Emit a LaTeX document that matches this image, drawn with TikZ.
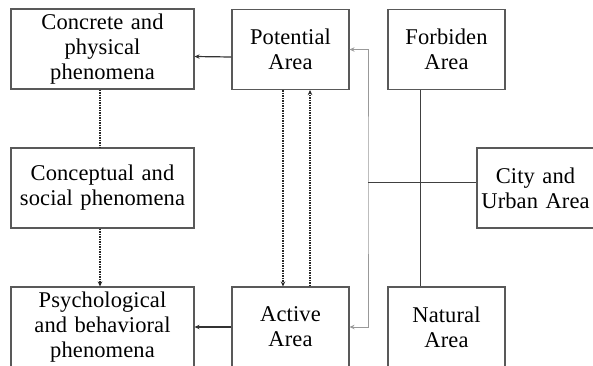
\documentclass[tikz,border=0pt]{standalone}
\usepackage{fontspec}
\setmainfont{Liberation Serif}[LetterSpace=0.5,WordSpace=1.3]
\usetikzlibrary{arrows.meta}
\begin{document}
\begin{tikzpicture}[x=1pt,y=-1pt,
  box/.style={draw=black!65, line width=1.1pt, fill=white, align=center,
    inner sep=0pt, font=\fontsize{22.5}{25}\selectfont},
  widebox/.style={box, minimum width=183pt, minimum height=80pt},
  areabox/.style={box, minimum width=117pt, minimum height=80pt},
  tip/.style={-{Stealth[length=5pt,width=4.5pt]}},
  flow/.style={tip, line width=1.2pt, black!80},
  dots/.style={line width=2.2pt, black!85, dash pattern=on 1.5pt off 1pt},
  graylink/.style={line width=0.9pt, black!40},
  divider/.style={line width=1pt, black!75}]
\useasboundingbox (0,0) rectangle (593,365);
\clip (0,0) rectangle (593,365);

% left column
\node[widebox] (concrete) at (102.5,49) {Concrete and\\physical\\phenomena};
\node[widebox] (conceptual) at (102.5,188) {Conceptual and\\social phenomena};
\node[widebox] (psych) at (102.5,327) {Psychological\\and behavioral\\phenomena};

% middle column
\node[areabox] (potential) at (290.5,49.5) {Potential\\Area};
\node[areabox] (active) at (290.5,327) {Active\\Area};

% right column
\node[areabox] (forbiden) at (446.5,49.5) {Forbiden\\Area};
\node[areabox] (natural) at (446.5,327) {Natural\\Area};
\node[areabox] (city) at (535.5,188) {City and\\Urban Area};

% solid arrows to the phenomena
\draw[flow] ([yshift=-7.5pt]potential.west) -- ([yshift=-7.5pt]concrete.east);
\draw[flow] (active.west) -- (psych.east);

% dotted links
\draw[dots] ([xshift=-2.5pt]concrete.south) -- ([xshift=-2.5pt]conceptual.north);
\draw[dots, tip] ([xshift=-2.5pt]conceptual.south) -- ([xshift=-2.5pt]psych.north);
\draw[dots, tip] ([xshift=-7.5pt]potential.south) -- ([xshift=-7.5pt]active.north);
\draw[dots, tip] ([xshift=19.5pt]active.north) -- ([xshift=19.5pt]potential.south);

% gray feedback rail between the areas and the city
\coordinate (rail) at (368,182);
\draw[graylink, {Stealth[length=5pt,width=4.5pt]}-{Stealth[length=5pt,width=4.5pt]}]
  (potential.east) -| (rail) |- (active.east);
\draw[divider] (rail) -- (rail -| city.west);

% vertical link between forbidden and natural areas
\draw[divider] ([xshift=-26.5pt]forbiden.south) -- ([xshift=-26.5pt]natural.north);
\end{tikzpicture}
\end{document}
